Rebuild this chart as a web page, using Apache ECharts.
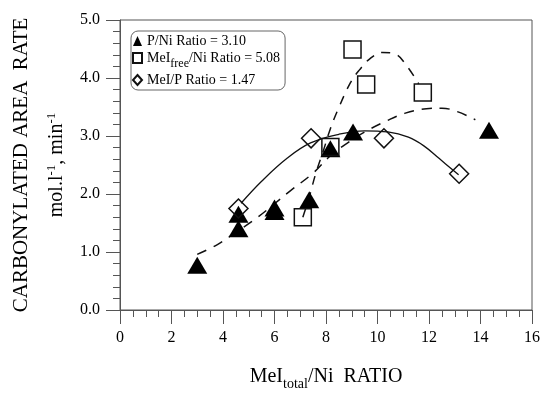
<!DOCTYPE html>
<html><head><meta charset="utf-8">
<script src="https://cdn.jsdelivr.net/npm/echarts@6/dist/echarts.min.js"></script>
<style>html,body{margin:0;padding:0;background:#fff}#c{width:543px;height:396px}</style>
</head><body><div id="c"></div>
<script>
// Series data (x = MeI_total/Ni ratio, y = carbonylated area rate)
const seriesNames = ['P/Ni Ratio = 3.10', 'MeIfree/Ni Ratio = 5.08', 'MeI/P Ratio = 1.47'];
const triangles = [[3.0,0.77],[4.6,1.65],[4.6,1.40],[6.0,1.76],[6.0,1.70],[7.35,1.90],[8.17,2.78],[9.05,3.07],[14.33,3.10]];
const squares = [[7.1,1.60],[8.17,2.81],[9.03,4.49],[9.56,3.89],[11.76,3.75]];
const diamonds = [[4.6,1.75],[7.42,2.96],[10.25,2.96],[13.17,2.35]];
// Fitted curves
const fitPNi = [[3.0,0.96],[3.75,1.12],[4.5,1.34],[5.35,1.60],[6.6,2.05],[7.5,2.36],[8.15,2.65],[8.8,2.87],[9.55,3.08],[10.35,3.26],[11.05,3.39],[11.9,3.47],[12.5,3.48],[13.1,3.42],[13.8,3.28]];
const fitMeIfree = [[7.1,1.60],[7.35,1.95],[7.6,2.35],[7.9,2.75],[8.15,3.10],[8.45,3.44],[8.95,3.92],[9.3,4.14],[9.7,4.33],[10.2,4.44],[10.7,4.41],[11.15,4.20],[11.6,3.90]];
const fitMeIP = [[4.7,1.84],[5.5,2.22],[6.5,2.62],[7.4,2.88],[8.5,3.03],[9.5,3.09],[10.4,3.07],[11.2,2.98],[11.8,2.83],[12.4,2.61],[13.15,2.33]];
const xMin = 0, xMax = 16, xStep = 2;
const yMin = 0, yMax = 5, yStep = 1;

const serif = 'Liberation Serif';
const axisColor = '#555';
const chart = echarts.init(document.getElementById('c'));
chart.setOption({
  animation: false,
  backgroundColor: '#fff',
  grid: { left: 120, right: 11, top: 20, bottom: 83, show: true, borderColor: axisColor, borderWidth: 1 },
  legend: {
    data: seriesNames,
    orient: 'vertical', left: 131, top: 31,
    backgroundColor: '#fff', borderColor: '#666', borderWidth: 1, borderRadius: 7,
    padding: [3, 5, 3, 1], itemGap: 3, itemWidth: 9, itemHeight: 10,
    textStyle: { fontFamily: serif, fontSize: 14, color: '#000',
      rich: { sub: { fontFamily: serif, fontSize: 12, color: '#000', padding: [12, 0, 0, 0] } } },
    formatter: n => n === seriesNames[1] ? 'MeI{sub|free}/Ni Ratio = 5.08' : n
  },
  xAxis: {
    type: 'value', min: xMin, max: xMax, interval: xStep,
    axisLine: { lineStyle: { color: axisColor, width: 1 } },
    axisTick: { length: 14, lineStyle: { color: axisColor } },
    minorTick: { show: true, splitNumber: 4, length: 7, lineStyle: { color: axisColor } },
    splitLine: { show: false },
    axisLabel: { color: '#000', fontFamily: serif, fontSize: 16, margin: 20 },
    name: 'MeI{sub|total}/Ni  RATIO', nameLocation: 'middle', nameGap: 53,
    nameTextStyle: { fontFamily: serif, fontSize: 20, color: '#000',
      rich: { sub: { fontFamily: serif, fontSize: 14, color: '#000', padding: [14, 0, 0, 0] } } }
  },
  yAxis: {
    type: 'value', min: yMin, max: yMax, interval: yStep,
    axisLine: { lineStyle: { color: axisColor, width: 1 } },
    axisTick: { length: 14, lineStyle: { color: axisColor } },
    minorTick: { show: true, splitNumber: 5, length: 7, lineStyle: { color: axisColor } },
    splitLine: { show: false },
    axisLabel: { color: '#000', fontFamily: serif, fontSize: 16, margin: 20, formatter: v => v.toFixed(1) },
    name: '{t1|CARBONYLATED AREA  RATE}\n{t2|mol.l}{sp|-1}{t2|, min}{sp|-1}',
    nameLocation: 'middle', nameRotate: 90, nameGap: 46,
    nameTextStyle: { fontFamily: serif, fontSize: 16, color: '#000',
      rich: {
        t1: { fontFamily: serif, fontSize: 21, color: '#000', lineHeight: 38 },
        t2: { fontFamily: serif, fontSize: 20, color: '#000', lineHeight: 34 },
        sp: { fontFamily: serif, fontSize: 13, color: '#000', lineHeight: 34, padding: [0, 0, 10, 0] }
      } }
  },
  series: [
    { name: 'fitPNi', type: 'line', data: fitPNi, smooth: 0.4, symbol: 'none', silent: true,
      lineStyle: { color: '#111', width: 1.5, type: [10, 8] }, z: 1 },
    { name: 'fitMeIfree', type: 'line', data: fitMeIfree, smooth: 0.4, symbol: 'none', silent: true,
      lineStyle: { color: '#111', width: 1.5, type: [9, 8] }, z: 1 },
    { name: 'fitMeIP', type: 'line', data: fitMeIP, smooth: 0.4, symbol: 'none', silent: true,
      lineStyle: { color: '#111', width: 1.3, type: 'solid' }, z: 1 },
    { name: seriesNames[0], type: 'scatter', data: triangles, symbol: 'triangle', symbolSize: [20, 17],
      itemStyle: { color: '#000', opacity: 1 }, z: 3 },
    { name: seriesNames[1], type: 'scatter', data: squares, symbol: 'rect', symbolSize: 17,
      itemStyle: { color: 'rgba(0,0,0,0)', borderColor: '#111', borderWidth: 1.5, opacity: 1 }, z: 4 },
    { name: seriesNames[2], type: 'scatter', data: diamonds, symbol: 'diamond', symbolSize: 19,
      itemStyle: { color: 'rgba(0,0,0,0)', borderColor: '#111', borderWidth: 1.5, opacity: 1 }, z: 4 }
  ]
});
</script></body></html>
